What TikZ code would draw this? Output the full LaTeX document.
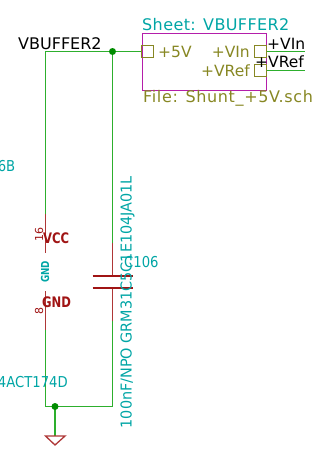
\documentclass[tikz,border=0pt]{standalone}
\usepackage{fontspec}
\setmainfont{DejaVu Sans}
\newfontfamily\sheetfont{DejaVu Sans}[LetterSpace=2.5]
\newfontfamily\filefont{DejaVu Sans}[LetterSpace=4]
\newfontfamily\fieldfont{DejaVu Sans}[FakeStretch=0.88]
\newfontfamily\longfont{DejaVu Sans}[FakeStretch=0.96]
\newfontfamily\redfont{DejaVu Sans}[FakeStretch=0.8]
\definecolor{wirec}{RGB}{45,175,45}
\definecolor{redc}{RGB}{160,20,20}
\definecolor{tealc}{RGB}{0,165,165}
\definecolor{olivec}{RGB}{135,135,35}
\definecolor{sheetc}{RGB}{180,30,170}
\definecolor{dotc}{RGB}{0,140,0}
\tikzset{
  wire/.style={draw=wirec,line width=1.45pt},
  pinline/.style={draw=redc!85,line width=1.4pt},
  plate/.style={draw=redc,line width=1.7pt},
  dot/.style={circle,fill=dotc,inner sep=0pt,minimum size=7pt},
  txt/.style={inner sep=0pt,font=\fontsize{15.5}{15.5}\selectfont},
  lab/.style={txt,anchor=base west},
  labr/.style={txt,anchor=base east},
  fieldtxt/.style={text=tealc,inner sep=0pt,font=\fieldfont\fontsize{15}{15}\selectfont},
  redtxt/.style={text=redc,inner sep=0pt,anchor=base west,font=\redfont\bfseries\fontsize{14.5}{14.5}\selectfont},
  small/.style={inner sep=0pt,rotate=90,anchor=base west,font=\fontsize{11}{11}\selectfont},
  sheetpin/.style={draw=olivec,line width=1.3pt,minimum size=11.5pt,inner sep=0pt},
}
\begin{document}
\begin{tikzpicture}[x=1pt,y=-1pt]
\useasboundingbox (0,0) rectangle (327,453);
\clip (0,0) rectangle (327,453);
% coordinates
\coordinate (tl) at (45.5,51.5);
\coordinate (u1) at (45.5,214);
\coordinate (u2) at (45.5,253);
\coordinate (u3) at (45.5,291);
\coordinate (u4) at (45.5,330);
\coordinate (bl) at (45.5,406.5);
\coordinate (br) at (112.5,406.5);
\coordinate (c1) at (112.5,243);
\coordinate (c2) at (112.5,276);
\coordinate (c3) at (112.5,288);
\coordinate (c4) at (112.5,321);
\coordinate (pa1) at (92.5,276);
\coordinate (pa2) at (132.5,276);
\coordinate (pb1) at (92.5,288);
\coordinate (pb2) at (132.5,288);
\coordinate (gnd) at (55,436);
\coordinate (gl) at (45.5,436);
\coordinate (gr) at (65,436);
\coordinate (gt) at (55,445);
\coordinate (w1) at (305,51.5);
\coordinate (w2) at (305,70.5);
% sheet
\node[draw=sheetc,line width=1.4pt,inner sep=0pt,minimum width=124.5pt,minimum height=57pt,anchor=north west] (sheet) at (141.5,32.5) {};
\node[sheetpin] (p5) at (147.5,51.5) {};
\node[sheetpin] (pv) at (260.5,51.5) {};
\node[sheetpin] (pr) at (260.5,70.5) {};
% wires
\draw[wire] (u1) -- (tl) -- (p5.west);
\draw[wire] (tl -| c1) -- (c1);
\draw[wire] (u4) -- (bl) -- (br) -- (c4);
\draw[wire] (gnd |- bl) -- (gnd);
\draw[wire] (pv.east) -- (w1);
\draw[wire] (pr.east) -- (w2);
% junctions
\node[dot] (j1) at (112.5,51.5) {};
\node[dot] (j2) at (55,406.5) {};
% pins
\draw[pinline] (u1) -- (u2);
\draw[pinline] (u3) -- (u4);
\draw[pinline] (c1) -- (c2);
\draw[pinline] (c3) -- (c4);
\draw[plate] (pa1) -- (pa2);
\draw[plate] (pb1) -- (pb2);
\draw[draw=redc!85,line width=1.3pt,line join=miter] (gl) -- (gr) -- (gt) -- cycle;
% texts
\node[lab,text=black,font=\fontsize{16}{16}\selectfont] (t1) at (18,49) {VBUFFER2};
\node[lab,text=tealc,font=\sheetfont\fontsize{16}{16}\selectfont] (t2) at (142,30) {Sheet: VBUFFER2};
\node[lab,text=olivec] (t3) at (158,57) {+5V};
\node[labr,text=olivec] (t4) at (250,57) {+VIn};
\node[labr,text=olivec] (t5) at (250,76) {+VRef};
\node[lab,text=olivec,font=\filefont\fontsize{16}{16}\selectfont] (t6) at (143,102) {File: Shunt\_+5V.sch};
\node[lab,text=black] (t7) at (267,49) {+VIn};
\node[lab,text=black] (t8) at (255,67) {+VRef};
\node[fieldtxt,anchor=base east] (t9) at (15.5,171.5) {6B};
\node[fieldtxt,anchor=base east] (t10) at (68,387) {4ACT174D};
\node[fieldtxt,anchor=base west] (t11) at (124,267) {C106};
\node[fieldtxt,anchor=base west,rotate=90,font=\longfont\fontsize{15}{15}\selectfont] (t12) at (131.5,428.5) {100nF/NPO GRM31C5C1E104JA01L};
\node[redtxt] (t13) at (43,243) {VCC};
\node[redtxt] (t14) at (42,307) {GND};
\node[small,text=redc] (t15) at (43,242) {16};
\node[small,text=redc] (t16) at (43,314.5) {8};
\node[small,text=tealc,font=\redfont\bfseries\fontsize{11}{11}\selectfont] (t17) at (49,283) {GND};
\end{tikzpicture}
\end{document}
